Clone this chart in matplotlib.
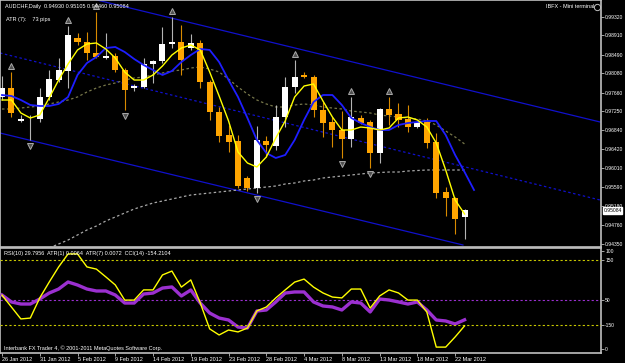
from __future__ import annotations

import matplotlib.pyplot as plt
import matplotlib.transforms as mtransforms
import numpy as np

# AUDCHF daily bars (IBFX feed, Sunday bars included), bar 0 = 26 Jan 2012
opens = [0.97563, 0.97761, 0.97038, 0.97095, 0.97082, 0.97563, 0.97936, 0.98132, 0.98854, 0.98767,
         0.98526, 0.98417, 0.98460, 0.98154, 0.97761, 0.97782, 0.98286, 0.98351, 0.98723, 0.98767,
         0.98635, 0.98745, 0.97892, 0.97235, 0.96732, 0.96601, 0.95791, 0.95572, 0.96601, 0.96491,
         0.97126, 0.97782, 0.98045, 0.98001, 0.97279, 0.97016, 0.96841, 0.96645, 0.97104, 0.97016,
         0.96338, 0.97301, 0.97192, 0.97082, 0.96907, 0.97016, 0.96579, 0.95485, 0.95353, 0.94930]
highs = [0.98023, 0.98110, 0.97170, 0.97170, 0.97761, 0.98154, 0.98417, 0.99117, 0.98964, 0.98985,
         0.99423, 0.98964, 0.98526, 0.98198, 0.97848, 0.98417, 0.98373, 0.99095, 0.99313, 0.99138,
         0.98942, 0.98810, 0.97936, 0.97344, 0.96951, 0.96732, 0.95835, 0.96929, 0.96710, 0.97388,
         0.98001, 0.98373, 0.98110, 0.98045, 0.97454, 0.97126, 0.97257, 0.97563, 0.97170, 0.97060,
         0.97323, 0.97563, 0.97432, 0.97388, 0.97038, 0.97104, 0.96776, 0.95594, 0.95375, 0.95105]
lows = [0.97498, 0.97126, 0.97016, 0.96623, 0.97016, 0.97498, 0.97892, 0.97761, 0.98701, 0.98373,
        0.98417, 0.98395, 0.98110, 0.97279, 0.97695, 0.97761, 0.97870, 0.98307, 0.98635, 0.98045,
        0.98592, 0.97761, 0.97060, 0.96579, 0.96360, 0.95572, 0.95506, 0.95463, 0.96251, 0.96404,
        0.96907, 0.97651, 0.97979, 0.97126, 0.96688, 0.96470, 0.96229, 0.96470, 0.96973, 0.96010,
        0.96120, 0.96951, 0.96907, 0.96798, 0.96885, 0.96448, 0.95353, 0.94960, 0.94566, 0.94460]
closes = [0.97761, 0.97213, 0.97082, 0.97110, 0.97563, 0.97957, 0.98154, 0.98920, 0.98767, 0.98526,
          0.98439, 0.98460, 0.98154, 0.97717, 0.97804, 0.98286, 0.98351, 0.98723, 0.98767, 0.98373,
          0.98745, 0.97892, 0.97235, 0.96710, 0.96579, 0.95616, 0.95572, 0.96623, 0.96513, 0.97126,
          0.97782, 0.98001, 0.98001, 0.97279, 0.96995, 0.96841, 0.96645, 0.97126, 0.96995, 0.96338,
          0.97301, 0.97170, 0.97060, 0.96907, 0.97016, 0.96557, 0.95463, 0.95353, 0.94894, 0.95084]

# fast MA (yellow), slower shifted MA (blue, one bar ahead), olive and grey dotted MAs
ma_fast = [0.97498, 0.97498, 0.97214, 0.97104, 0.97170, 0.97542, 0.97935, 0.98285, 0.98592, 0.98723,
           0.98745, 0.98613, 0.98417, 0.98110, 0.97935, 0.97935, 0.98045, 0.98242, 0.98482, 0.98635,
           0.98701, 0.98592, 0.98110, 0.97585, 0.97039, 0.96361, 0.96120, 0.96033, 0.96251, 0.96667,
           0.97039, 0.97564, 0.97804, 0.97848, 0.97476, 0.97126, 0.96842, 0.96842, 0.96907, 0.96886,
           0.96842, 0.96886, 0.97104, 0.97126, 0.97061, 0.96907, 0.96558, 0.95967, 0.95311, 0.95005]
ma_slow = [0.97607, 0.97586, 0.97498, 0.97389, 0.97367, 0.97367, 0.97411, 0.97564, 0.98045, 0.98307,
           0.98438, 0.98635, 0.98657, 0.98548, 0.98395, 0.98263, 0.98154, 0.98045, 0.98132, 0.98329,
           0.98482, 0.98613, 0.98592, 0.98329, 0.97935, 0.97564, 0.97104, 0.96623, 0.96339, 0.96230,
           0.96295, 0.96623, 0.97061, 0.97454, 0.97607, 0.97607, 0.97389, 0.97104, 0.96995, 0.96907,
           0.96842, 0.96842, 0.96951, 0.96995, 0.97017, 0.97039, 0.97039, 0.96732, 0.96295, 0.95923,
           0.95530]
ma_olive = [0.97301, 0.97301, 0.97323, 0.97345, 0.97367, 0.97411, 0.97454, 0.97498, 0.97564, 0.97673,
            0.97760, 0.97826, 0.97870, 0.97935, 0.97979, 0.98001, 0.98045, 0.98089, 0.98132, 0.98154,
            0.98198, 0.98220, 0.98176, 0.98110, 0.97957, 0.97782, 0.97629, 0.97498, 0.97411, 0.97345,
            0.97345, 0.97389, 0.97411, 0.97389, 0.97345, 0.97323, 0.97301, 0.97257, 0.97236, 0.97214,
            0.97170, 0.97148, 0.97126, 0.97104, 0.97083, 0.97039, 0.96951, 0.96820, 0.96689, 0.96536]
ma_long_start = 5
ma_long = [0.94261, 0.94349, 0.94436, 0.94546, 0.94655, 0.94742, 0.94852, 0.94939, 0.95027, 0.95114,
           0.95180, 0.95245, 0.95289, 0.95333, 0.95377, 0.95420, 0.95442, 0.95464, 0.95486, 0.95508,
           0.95530, 0.95552, 0.95573, 0.95595, 0.95617, 0.95661, 0.95683, 0.95727, 0.95748, 0.95792,
           0.95814, 0.95836, 0.95858, 0.95880, 0.95901, 0.95912, 0.95923, 0.95923, 0.95945, 0.95956,
           0.95967, 0.95967, 0.95967, 0.95967, 0.95967]

# regression channel anchors (bar, price)
channel_upper = [(10.06, 0.99685), (63.35, 0.97017)]
channel_mid = [(-0.21, 0.98526), (63.35, 0.95311)]
channel_lower = [(-0.21, 0.96776), (48.83, 0.94327)]

fractal_up = [1, 7, 10, 18, 31, 37, 41]
fractal_dn = [3, 13, 27, 36, 39]

rsi = [55.1, 48.0, 45.9, 45.9, 51.0, 57.1, 61.2, 68.4, 65.3, 61.2,
       59.2, 59.2, 55.1, 46.9, 46.9, 56.1, 57.1, 62.2, 63.3, 54.1,
       60.2, 46.9, 36.7, 31.6, 29.6, 22.4, 21.4, 38.8, 39.8, 48.0,
       57.1, 58.2, 58.2, 48.0, 43.9, 42.9, 39.8, 48.0, 46.9, 37.8,
       51.0, 50.0, 48.0, 45.9, 48.0, 39.8, 29.6, 28.6, 25.5, 29.8]
cci = [-12, -67, -122, -118, -25, 48, 118, 178, 178, 118,
       108, 72, 35, -35, -35, 12, 12, 81, 99, 25,
       58, -48, -168, -196, -173, -182, -164, -85, -67, -25,
       12, 48, 62, 25, -2, -21, -25, 16, 16, -72,
       -16, 12, -2, -35, -35, -90, -252, -252, -205, -154]

price_ticks = [0.99320, 0.98910, 0.98490, 0.98080, 0.97660, 0.97250, 0.96840,
               0.96420, 0.96010, 0.95590, 0.95180, 0.94760, 0.94350]
date_labels = ["26 Jan 2012", "31 Jan 2012", "5 Feb 2012", "9 Feb 2012", "14 Feb 2012",
               "19 Feb 2012", "23 Feb 2012", "28 Feb 2012", "4 Mar 2012", "8 Mar 2012",
               "13 Mar 2012", "18 Mar 2012", "22 Mar 2012"]
date_every = 4

W, H = 625, 363
BG = "black"
FRAME = "#c0c0c0"
FS = 4.0      # general text
FS_AX = 3.6   # right price scale, has to fit in the 24 px margin

plt.rcParams["font.family"] = ["Liberation Sans", "DejaVu Sans"]


def _px(x: float, y: float) -> tuple:
    return x / W, 1 - y / H


def _style_axes(ax) -> None:
    ax.set_facecolor(BG)
    for s in ax.spines.values():
        s.set_color(FRAME)
        s.set_linewidth(1.2)
    ax.tick_params(colors=FRAME, labelcolor="white", labelsize=FS_AX, length=2.2, width=0.6, pad=0.8)


def draw_candles(ax) -> None:
    o, h, l, c = map(np.asarray, (opens, highs, lows, closes))
    x = np.arange(len(o))
    up = c >= o
    ax.vlines(x[up], l[up], h[up], color="#b4b4b4", lw=0.8, zorder=3)
    ax.vlines(x[~up], l[~up], h[~up], color="#d88a00", lw=0.8, zorder=3)
    lo = np.minimum(o, c)
    ht = np.maximum(np.abs(c - o), 0.00008)
    ax.bar(x[up], ht[up], bottom=lo[up], width=0.64, color="white", lw=0, zorder=4)
    ax.bar(x[~up], ht[~up], bottom=lo[~up], width=0.64, color="#ffa500", lw=0, zorder=4)

    ax.plot(fractal_up, h[fractal_up] + 0.0013, ls="none", marker="^", ms=4,
            mfc="#505050", mec="#a8a8a8", mew=0.7, zorder=5)
    ax.plot(fractal_dn, l[fractal_dn] - 0.0013, ls="none", marker="v", ms=4,
            mfc="#505050", mec="#a8a8a8", mew=0.7, zorder=5)


def draw_main(ax) -> None:
    _style_axes(ax)
    ax.set_xlim(-0.21, 63.45)
    ax.set_ylim(0.94294, 0.99685)

    for pts, ls in ((channel_upper, "-"), (channel_mid, (0, (2, 2))), (channel_lower, "-")):
        (x0, y0), (x1, y1) = pts
        ax.plot([x0, x1], [y0, y1], color="#1010cc", lw=0.9, ls=ls, zorder=1)

    ax.plot(np.arange(len(ma_olive)), ma_olive, color="#77774a", lw=0.9, ls=(0, (2, 2)), zorder=2)
    xl = np.arange(ma_long_start, ma_long_start + len(ma_long))
    ax.plot(xl, ma_long, color="#a8a8a8", lw=0.9, ls=(0, (2, 2)), zorder=2)

    draw_candles(ax)

    ax.plot(np.arange(len(ma_slow)), ma_slow, color="#1e1eff", lw=1.3, zorder=6)
    ax.plot(np.arange(len(ma_fast)), ma_fast, color="#ffff00", lw=1.0, zorder=7)

    ax.set_xticks([])
    ax.yaxis.tick_right()
    ax.set_yticks(price_ticks)
    ax.set_yticklabels([f"{p:.5f}" for p in price_ticks], fontsize=FS_AX)

    last = closes[-1]
    tr = mtransforms.blended_transform_factory(ax.transAxes, ax.transData)
    ax.text(1.004, last, f"{last:.5f}", transform=tr, fontsize=FS_AX, color="black",
            va="center", ha="left", clip_on=False, zorder=10,
            bbox=dict(fc="white", ec="white", pad=0.5))


def draw_lower(ax) -> None:
    _style_axes(ax)
    ax.set_xlim(-0.21, 63.45)
    ax.set_ylim(-4.08, 103.06)
    x = np.arange(len(rsi))

    cx = ax.twinx()
    cx.set_ylim(-279.2, 205.4)
    cx.set_xlim(-0.21, 63.45)
    for s in cx.spines.values():
        s.set_visible(False)
    cx.tick_params(colors=FRAME, labelcolor="white", labelsize=FS_AX, length=2.2, width=0.6, pad=0.8)

    for lvl in (150, -150):
        cx.axhline(lvl, color="#c8c800", lw=0.8, ls=(0, (2, 2)))
    ax.axhline(50, color="#9a30d0", lw=0.8, ls=(0, (2, 2)))

    ax.plot(x, rsi, color="#9b30d0", lw=2.4, zorder=3)
    cx.plot(x, cci, color="#ffff00", lw=1.0, zorder=4)

    ax.yaxis.tick_right()
    ax.set_yticks([100, 50, 0])
    ax.set_yticklabels(["100", "50", "0"], fontsize=FS_AX)
    cx.set_yticks([150, -150])
    cx.set_yticklabels(["150", "-150"], fontsize=FS_AX)

    ax.set_xticks(np.arange(len(date_labels)) * date_every)
    ax.set_xticklabels(date_labels, fontsize=FS, ha="left")
    ax.tick_params(axis="x", pad=1.0)


fig = plt.figure(figsize=(W / 100, H / 100), dpi=100, facecolor=BG)
ax_main = fig.add_axes([0, 1 - 246.5 / H, 601 / W, 246.5 / H])
ax_low = fig.add_axes([0, 1 - 353 / H, 601 / W, (353 - 248) / H])

draw_main(ax_main)
draw_lower(ax_low)

txt = dict(fontsize=FS, color="white", va="center", ha="left")
fig.text(*_px(5, 6.5), f"AUDCHF,Daily  {opens[-1]:.5f} {highs[-1]:.5f} {lows[-1]:.5f} {closes[-1]:.5f}", **txt)
fig.text(*_px(6, 19.5), "ATR (7):    73 pips", **txt)
fig.text(*_px(546, 6.5), "IBFX - Mini terminal", **txt)
fig.lines.append(plt.Line2D([597 / W], [1 - 7 / H], marker="o", ms=4.5, mfc="none",
                            mec="#c0c0c0", mew=0.7, transform=fig.transFigure))
fig.text(*_px(4, 253), "RSI(10) 29.7956  ATR(1) 0.0064  ATR(7) 0.0072  CCI(14) -154.2104", **txt)
fig.text(*_px(4, 348), "Interbank FX Trader 4, \u00a9 2001-2011 MetaQuotes Software Corp.", **txt)

fig.savefig("out.png", dpi=100, facecolor=BG)
